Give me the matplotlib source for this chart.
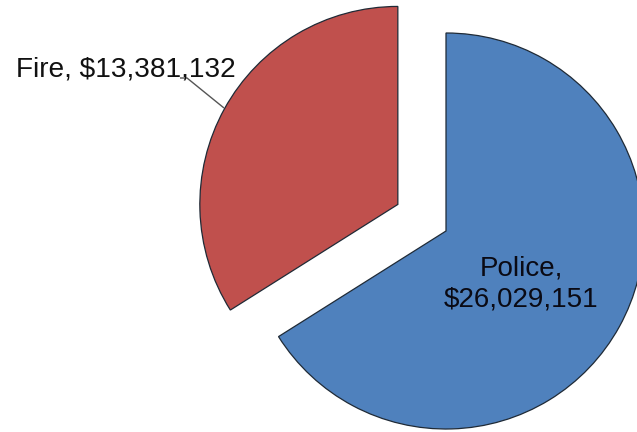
import matplotlib
matplotlib.use("Agg")
import matplotlib.pyplot as plt

plt.rcParams['font.family'] = ['Liberation Sans', 'DejaVu Sans']

# data
categories = ['Police', 'Fire']
amounts = [26029151, 13381132]
colors = ['#4F81BD', '#C0504D']

W, H = 637, 432
fig = plt.figure(figsize=(W / 100, H / 100), dpi=100)
ax = fig.add_axes([0, 0, 1, 1])

# pie drawn in pixel-like data units so placement matches the reference
wedges, _ = ax.pie(amounts, colors=colors, startangle=90, counterclock=False,
                   center=(446, H - 231), radius=198, explode=[0, 55],
                   wedgeprops=dict(edgecolor='#1f2a36', linewidth=0.9))
ax.set_xlim(0, W)
ax.set_ylim(0, H)
ax.set_aspect('equal')
ax.axis('off')

labels = [f"{c},\n${v:,}" for c, v in zip(categories, amounts)]

# Police label inside the slice
ax.text(521, H - 284, labels[0], ha='center', va='center', fontsize=20,
        color='#0a0a14', linespacing=1.22)

# Fire label outside with leader line
ax.text(126, H - 70, labels[1].replace('\n', ' '), ha='center', va='center',
        fontsize=20.2, color='#111111')
ax.plot([180, 187, 224], [H - 78, H - 78, H - 108], color='#555555', lw=1,
        solid_capstyle='butt')

fig.savefig('out.png', dpi=100)
